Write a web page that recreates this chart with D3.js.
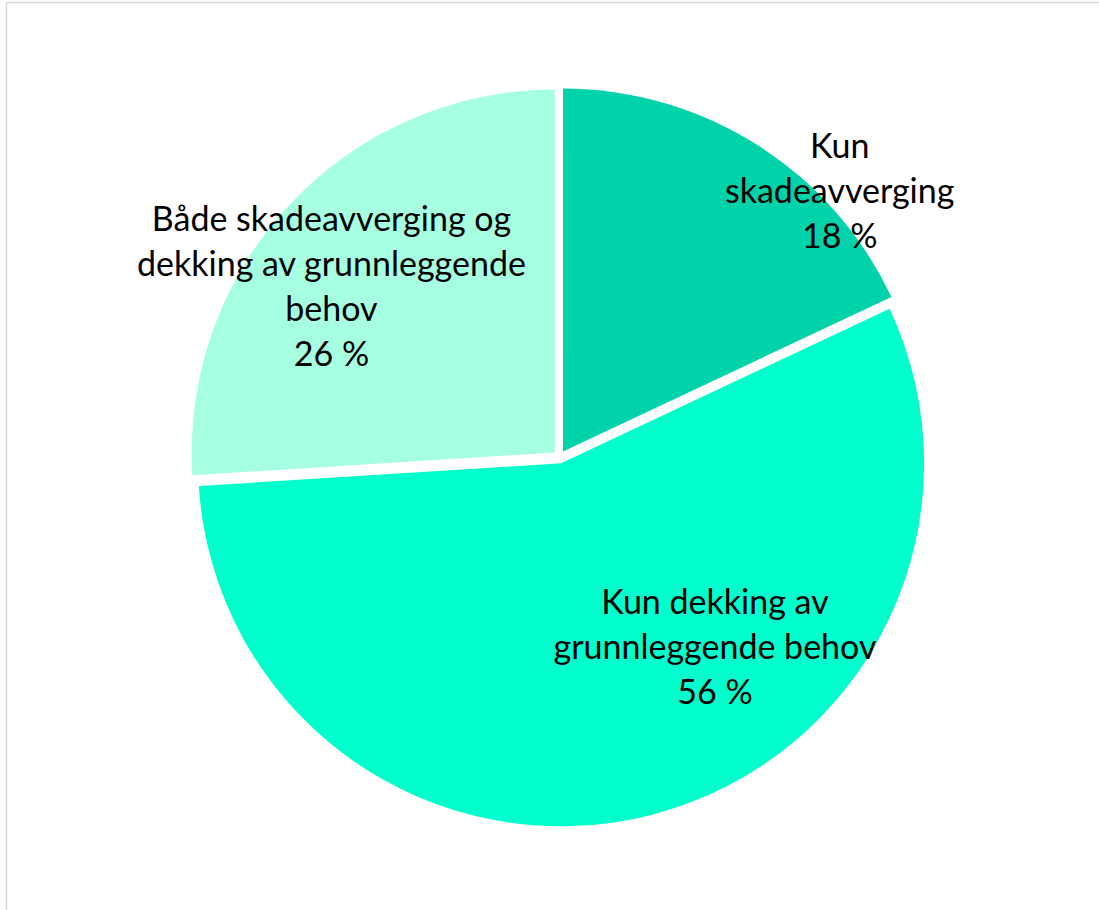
<!DOCTYPE html>
<html>
<head>
<meta charset="utf-8">
<script src="https://cdn.jsdelivr.net/npm/d3@7"></script>
<style>
  html, body { margin: 0; padding: 0; background: #ffffff; }
  svg { display: block; }
</style>
</head>
<body>
<svg id="chart" width="1099" height="910"></svg>
<script>
// Share of measures by purpose
const categories = ["Kun skadeavverging", "Kun dekking av grunnleggende behov", "Både skadeavverging og dekking av grunnleggende behov"];
const shares = [18, 56, 26];
const labelLines = [
  ["Kun", "skadeavverging", "18 %"],
  ["Kun dekking av", "grunnleggende behov", "56 %"],
  ["Både skadeavverging og", "dekking av grunnleggende", "behov", "26 %"]
];
const colors = ["#00d2aa", "#00ffcc", "#a5ffe0"];

// Layout
const W = 1099, H = 910;
const cx = 559.5, cy = 457, R = 363;
const explode = 6.5;          // distance each slice is pulled out along its bisector
const lineHeight = 45;
const labelPlacement = [       // [angle in degrees, radius as fraction of R] for each label block
  [47.8, 1.042],
  [142.4, 0.702],
  [304.8, 0.765]
];

const svg = d3.select("#chart");

// Plot-area frame
svg.append("path")
  .attr("d", `M6.5,${H} V2.5 H${W}`)
  .attr("fill", "none")
  .attr("stroke", "#d9d9d9")
  .attr("stroke-width", 1.5);

const pie = d3.pie().sort(null).value(d => d).startAngle(0).endAngle(2 * Math.PI);
const arcs = pie(shares);
const arc = d3.arc().innerRadius(0).outerRadius(R);

const g = svg.append("g").attr("transform", `translate(${cx},${cy})`);

g.selectAll("path.slice")
  .data(arcs)
  .join("path")
  .attr("class", "slice")
  .attr("d", arc)
  .attr("fill", (d, i) => colors[i])
  .attr("transform", d => {
    const [dx, dy] = d3.pointRadial((d.startAngle + d.endAngle) / 2, explode);
    return `translate(${dx},${dy})`;
  });

// Data labels
const labels = g.selectAll("text.label")
  .data(arcs)
  .join("text")
  .attr("class", "label")
  .attr("text-anchor", "middle")
  .attr("font-family", "Lato, 'Open Sans', sans-serif")
  .attr("font-size", 34)
  .attr("fill", "#000000");

labels.each(function (d, i) {
  const [pa, pr] = labelPlacement[i];
  const [x, y] = d3.pointRadial(pa * Math.PI / 180, pr * R);
  const lines = labelLines[i];
  const y0 = y - (lines.length - 1) * lineHeight / 2;
  d3.select(this).selectAll("tspan")
    .data(lines)
    .join("tspan")
    .attr("x", x)
    .attr("y", (t, k) => y0 + k * lineHeight)
    .text(t => t);
});
</script>
</body>
</html>
